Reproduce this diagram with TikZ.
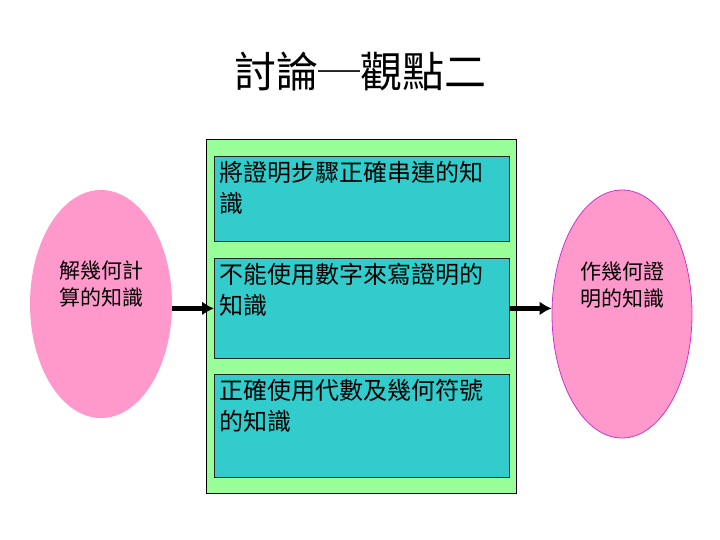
\documentclass[tikz,border=0pt]{standalone}
\usepackage{fontspec}
\setmainfont{Noto Sans CJK TC}
\usepackage{tikz}
\usetikzlibrary{calc,positioning,shapes,shapes.geometric}
\usetikzlibrary{arrows,arrows.meta}

\definecolor{panelgreen}{RGB}{153,255,153}
\definecolor{itemteal}{RGB}{51,204,204}
\definecolor{knowpink}{RGB}{255,153,204}
\definecolor{knowedge}{RGB}{204,51,204}

\begin{document}
\begin{tikzpicture}[x=1pt,y=-1pt]
    \newcommand*{\itemWidth}{285pt}
    \tikzstyle{item box}=[draw=black!85, fill=itemteal, line width=0.8pt, inner sep=5pt, anchor=north west];
    \tikzstyle{know oval}=[ellipse, fill=knowpink, inner sep=0pt];
    \tikzstyle{know text}=[align=center, font=\fontsize{21}{27}\selectfont];
    \tikzstyle{flow arrow}=[line width=4.5pt, -{Latex[length=12pt,width=14pt]}];

    \useasboundingbox (0,0) rectangle (720,540);

    \node[font=\fontsize{42}{42}\selectfont] (title) at (360,72) {討論─觀點二};

    \node[draw=black, fill=panelgreen, line width=0.8pt, minimum width=310pt, minimum height=354pt] (panel) at (361,316) {};

    \node[item box] (box1) at (214,156) {\parbox[t][75pt][t]{\itemWidth}{\fontsize{24}{31}\selectfont 將證明步驟正確串連的知\\識}};
    \node[item box] (box2) at (214,258) {\parbox[t][90pt][t]{\itemWidth}{\fontsize{24}{31}\selectfont 不能使用數字來寫證明的\\知識}};
    \node[item box] (box3) at (214,374) {\parbox[t][93pt][t]{\itemWidth}{\fontsize{24}{31}\selectfont 正確使用代數及幾何符號\\的知識}};

    \node[know oval, minimum width=142pt, minimum height=228pt] (left) at (101,304) {};
    \node[know text] (lefttext) at (101,284) {解幾何計\\算的知識};

    \node[know oval, draw=knowedge, line width=0.8pt, minimum width=140pt, minimum height=248pt] (right) at (622,314) {};
    \node[know text] (righttext) at (622,285) {作幾何證\\明的知識};

    \draw[flow arrow] (left.east |- box2.west) -- (box2.west);
    \draw[flow arrow] (box2.east) -- (box2.east -| right.west);
\end{tikzpicture}
\end{document}
